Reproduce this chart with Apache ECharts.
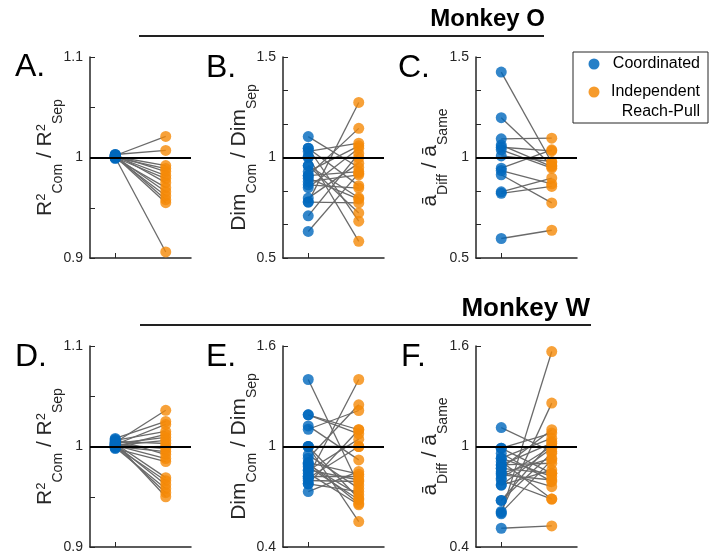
<!DOCTYPE html>
<html><head><meta charset="utf-8">
<script src="https://cdn.jsdelivr.net/npm/echarts@6/dist/echarts.min.js"></script>
<style>html,body{margin:0;padding:0;background:#fff}#c{width:711px;height:554px}</style>
</head><body><div id="c"></div>
<script>
// ---------- data ----------
const categories = ['Coordinated', 'Independent Reach-Pull'];
const legendLabels = ['Coordinated', 'Independent', 'Reach-Pull'];
const titles = ['Monkey O', 'Monkey W'];
const panelLetters = ['A.', 'B.', 'C.', 'D.', 'E.', 'F.'];

const aCoord = [1.002, 1.003, 1.001, 1.000, 1.002, 1.001, 1.000, 1.003, 0.999, 1.001, 1.000, 1.002, 1.001, 1.000];
const aIndep = [1.021, 1.007, 0.992, 0.989, 0.986, 0.982, 0.979, 0.975, 0.970, 0.966, 0.962, 0.958, 0.955, 0.906];

const bCoord = [1.104, 1.046, 1.046, 1.030, 1.005, 1.000, 0.960, 0.930, 0.910, 0.897, 0.880, 0.864, 0.850, 0.798, 0.778, 0.778, 0.710, 0.632, 0.960, 0.910];
const bIndep = [0.950, 0.683, 0.860, 1.071, 0.583, 1.000, 0.724, 1.058, 1.145, 0.793, 0.914, 0.848, 1.046, 0.972, 1.274, 0.774, 1.020, 0.922, 0.800, 0.930];

const cCoord = [1.425, 1.198, 1.093, 1.051, 1.038, 1.062, 1.008, 0.947, 0.935, 0.914, 0.829, 0.822, 0.597];
const cIndep = [0.975, 0.960, 1.096, 1.033, 0.947, 0.955, 0.980, 1.038, 0.869, 0.774, 0.898, 0.856, 0.638];

const dCoord = [1.004, 1.008, 1.002, 1.006, 1.000, 1.003, 1.001, 1.005, 0.999, 1.002, 1.000, 1.007, 1.001, 0.998, 1.003, 1.000, 1.002, 0.999, 1.001, 1.004];
const dIndep = [1.036, 1.025, 1.022, 1.015, 1.012, 1.009, 1.006, 1.003, 1.000, 0.998, 0.995, 0.992, 0.988, 0.985, 0.969, 0.966, 0.962, 0.958, 0.954, 0.950];

const eCoord = [1.400, 1.189, 1.189, 1.123, 1.103, 1.000, 1.000, 1.000, 0.930, 0.904, 0.891, 0.857, 0.841, 0.821, 0.821, 0.797, 0.777, 0.777, 0.731, 0.880, 0.950, 0.860, 0.810, 0.900];
const eIndep = [0.770, 1.100, 1.076, 0.920, 1.215, 1.000, 0.552, 0.690, 1.249, 0.835, 0.711, 1.044, 0.652, 1.400, 0.821, 0.791, 1.100, 0.731, 0.851, 0.682, 0.750, 0.800, 1.000, 0.660];

const fCoord = [1.113, 0.990, 0.990, 0.960, 0.930, 0.930, 0.910, 0.890, 0.890, 0.870, 0.870, 0.850, 0.840, 0.830, 0.810, 0.800, 0.770, 0.770, 0.678, 0.678, 0.612, 0.598, 0.605, 0.512];
const fIndep = [0.970, 0.840, 1.080, 0.790, 1.050, 0.820, 0.686, 1.020, 0.900, 0.840, 1.100, 0.760, 0.930, 0.800, 1.000, 0.686, 0.990, 0.860, 1.030, 0.960, 1.259, 1.567, 0.920, 0.526];

const ticksR = ['0.9', '1', '1.1'];
const ticksB = ['0.5', '1', '1.5'];
const ticksE = ['0.4', '1', '1.6'];

const nameR = '{m|R}{sup|2}{sub|Com}{m| / R}{sup|2}{sub|Sep}';
const nameDim = '{m|Dim}{sub|Com}{m| / Dim}{sub|Sep}';
const nameA = '{m|ā}{sub|Diff}{m| / ā}{sub|Same}';

// ---------- layout ----------
const FONT = '"Liberation Sans", Arial, Helvetica, sans-serif';
const AXC = '#262626';
const BLUE = '#0068BD', ORANGE = '#F58A07';

const panels = [
  {coord: aCoord, indep: aIndep, min: 0.9, max: 1.1, interval: 0.05, ticks: ticksR, name: nameR, left: 90, top: 57, gap: 25},
  {coord: bCoord, indep: bIndep, min: 0.5, max: 1.5, interval: 1/6, ticks: ticksB, name: nameDim, left: 283, top: 57, gap: 23.5},
  {coord: cCoord, indep: cIndep, min: 0.5, max: 1.5, interval: 1/6, ticks: ticksB, name: nameA, left: 476, top: 57, gap: 25.5},
  {coord: dCoord, indep: dIndep, min: 0.9, max: 1.1, interval: 0.05, ticks: ticksR, name: nameR, left: 90, top: 346, gap: 25},
  {coord: eCoord, indep: eIndep, min: 0.4, max: 1.6, interval: 0.6, ticks: ticksE, name: nameDim, left: 283, top: 346, gap: 23.5},
  {coord: fCoord, indep: fIndep, min: 0.4, max: 1.6, interval: 0.6, ticks: ticksE, name: nameA, left: 476, top: 346, gap: 25.5}
];

const rich = {
  m: {fontSize: 21, lineHeight: 40, verticalAlign: 'middle', color: AXC, fontFamily: FONT},
  sub: {fontSize: 14, lineHeight: 14, verticalAlign: 'middle', padding: [26, 0, 0, 0], color: AXC, fontFamily: FONT},
  sup: {fontSize: 13, lineHeight: 13, verticalAlign: 'middle', padding: [0, 0, 8, 0], color: AXC, fontFamily: FONT}
};

const grid = [], xAxis = [], yAxis = [], series = [];
panels.forEach((p, i) => {
  grid.push({left: p.left, top: p.top, width: 101, height: 201, containLabel: false});
  xAxis.push({
    type: 'category', gridIndex: i, data: categories, boundaryGap: true,
    axisLine: {lineStyle: {color: AXC, width: 1.5}},
    axisTick: {show: true, inside: true, alignWithLabel: true, length: 5, lineStyle: {color: AXC, width: 1}},
    axisLabel: {show: false}, splitLine: {show: false}
  });
  yAxis.push({
    type: 'value', gridIndex: i, min: p.min, max: p.max, interval: p.interval,
    axisLine: {show: true, lineStyle: {color: AXC, width: 1.5}},
    axisTick: {show: true, inside: true, length: 5, lineStyle: {color: AXC, width: 1}},
    splitLine: {show: false},
    axisLabel: {
      color: AXC, fontSize: 14, fontFamily: FONT, margin: 7, showMinLabel: true, showMaxLabel: true,
      formatter: v => { const t = p.ticks.find(s => Math.abs(parseFloat(s) - v) < 1e-6); return t || ''; }
    },
    name: p.name, nameLocation: 'middle', nameRotate: 90, nameGap: p.gap, nameMoveOverlap: false,
    nameTextStyle: {rich: rich, color: AXC, fontFamily: FONT}
  });
  p.coord.forEach((b, k) => {
    series.push({
      type: 'line', xAxisIndex: i, yAxisIndex: i, silent: true, symbol: 'none',
      data: [[0, b], [1, p.indep[k]]],
      lineStyle: {color: '#6a6a6a', width: 1.3}, z: 2
    });
  });
  series.push({
    type: 'scatter', xAxisIndex: i, yAxisIndex: i, data: [], silent: true, z: 3,
    markLine: {silent: true, symbol: ['none', 'none'], label: {show: false},
      lineStyle: {color: '#000', width: 2, type: 'solid'}, data: [{yAxis: 1}], animation: false}
  });
  series.push({
    name: categories[0], type: 'scatter', xAxisIndex: i, yAxisIndex: i, symbolSize: 11, z: 4,
    data: p.coord.map(v => [0, v]), itemStyle: {color: BLUE, opacity: 0.8}
  });
  series.push({
    name: categories[1], type: 'scatter', xAxisIndex: i, yAxisIndex: i, symbolSize: 11, z: 4,
    data: p.indep.map(v => [1, v]), itemStyle: {color: ORANGE, opacity: 0.8}
  });
});

const letterPos = [[15, 63.5], [206, 64], [398, 64], [15, 353], [206, 353], [401, 353]];
const graphic = [];
panelLetters.forEach((t, i) => graphic.push({
  type: 'text', left: letterPos[i][0], top: letterPos[i][1] - 12,
  style: {text: t, font: '32px ' + FONT, fill: '#000'}
}));
graphic.push({type: 'text', right: 711 - 545, top: 7, style: {text: titles[0], font: 'bold 24px ' + FONT, fill: '#000'}});
graphic.push({type: 'line', shape: {x1: 139, y1: 36, x2: 544, y2: 36}, style: {stroke: '#222', lineWidth: 2}});
graphic.push({type: 'text', right: 711 - 590, top: 296, style: {text: titles[1], font: 'bold 26px ' + FONT, fill: '#000'}});
graphic.push({type: 'line', shape: {x1: 140, y1: 325, x2: 591, y2: 325}, style: {stroke: '#222', lineWidth: 2}});
// legend
graphic.push({type: 'rect', shape: {x: 573, y: 52, width: 135, height: 71}, style: {fill: '#fff', stroke: AXC, lineWidth: 1}, z: 10});
graphic.push({type: 'circle', shape: {cx: 594, cy: 64, r: 5.5}, style: {fill: BLUE, opacity: 0.85}, z: 11});
graphic.push({type: 'circle', shape: {cx: 594, cy: 92, r: 5.5}, style: {fill: ORANGE, opacity: 0.85}, z: 11});
graphic.push({type: 'text', x: 700, y: 64, style: {text: legendLabels[0], font: '16px ' + FONT, fill: '#000', textAlign: 'right', textVerticalAlign: 'middle'}, z: 11});
graphic.push({type: 'text', x: 700, y: 92, style: {text: legendLabels[1], font: '16px ' + FONT, fill: '#000', textAlign: 'right', textVerticalAlign: 'middle'}, z: 11});
graphic.push({type: 'text', x: 700, y: 112, style: {text: legendLabels[2], font: '16px ' + FONT, fill: '#000', textAlign: 'right', textVerticalAlign: 'middle'}, z: 11});

const chart = echarts.init(document.getElementById('c'), null, {renderer: 'canvas'});
chart.setOption({animation: false, backgroundColor: '#fff', grid, xAxis, yAxis, series, graphic});
</script></body></html>
